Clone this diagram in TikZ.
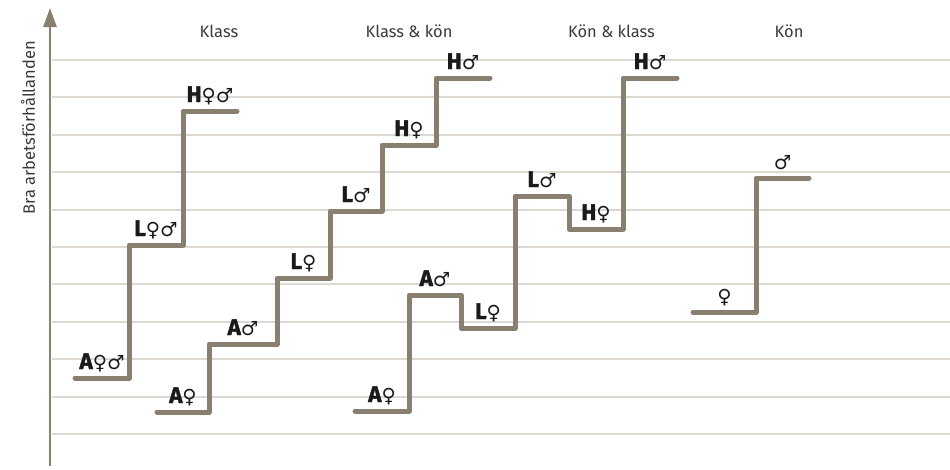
\documentclass[tikz,border=0pt]{standalone}
\usepackage{fontspec}
\usetikzlibrary{arrows.meta}
\setmainfont{Fira Sans}
\newfontfamily\symfont{DejaVu Sans}
\definecolor{stepcol}{HTML}{887F71}
\definecolor{gridcol}{HTML}{DDD9D2}
\definecolor{titlecol}{HTML}{3A3A3A}
\definecolor{labcol}{HTML}{1A1A1A}
\newcommand{\fe}{{\symfont\fontsize{19.5}{19.5}\selectfont ♀}}
\newcommand{\ma}{{\symfont\fontsize{19.5}{19.5}\selectfont ♂}}
\tikzset{
  stair/.style={draw=stepcol, line width=5pt, line cap=round, line join=round},
  gridline/.style={draw=gridcol, line width=2pt},
  lab/.style={anchor=base, inner sep=0pt, text=labcol, font=\fontsize{22.5}{22.5}\selectfont\bfseries\addfontfeature{FakeBold=1.6}, yshift=9pt},
  title/.style={text=titlecol, font=\fontsize{16.5}{16.5}\selectfont, inner sep=0pt}
}
\begin{document}
\begin{tikzpicture}[x=1pt, y=-1pt]
\useasboundingbox (0,0) rectangle (950,469);
% grid
\foreach \i in {0,...,10} {
  \draw[gridline] (52,{60+37.4*\i}) -- (950,{60+37.4*\i});
}
% axis
\coordinate (ax0) at (50,466);
\coordinate (ax1) at (50,8);
\draw[draw=stepcol, line width=2.6pt, -{Triangle[length=19pt, width=13pt]}, fill=stepcol] (ax0) -- (ax1);
\node[title, rotate=90] (ylab) at (28,128) {Bra arbetsförhållanden};
% titles
\node[title] (t1) at (219,31) {Klass};
\node[title] (t2) at (409,31) {Klass \& kön};
\node[title] (t3) at (611.5,31) {Kön \& klass};
\node[title] (t4) at (789,31) {Kön};
% Klass
\draw[stair] (75,378) -- node[lab] (k1) {A\fe\ma} (129,378) -- (129,245)
  -- node[lab] (k2) {L\fe\ma} (183,245) -- (183,111)
  -- node[lab] (k3) {H\fe\ma} (237,111);
% Klass & kon
\draw[stair] (157,412) -- node[lab] (kk1) {A\fe} (209,412) -- (209,344)
  -- node[lab] (kk2) {A\ma} (277,344) -- (277,278)
  -- node[lab] (kk3) {L\fe} (330,278) -- (330,211)
  -- node[lab] (kk4) {L\ma} (382,211) -- (382,145)
  -- node[lab] (kk5) {H\fe} (436,145) -- (436,78)
  -- node[lab] (kk6) {H\ma} (490,78);
% Kon & klass
\draw[stair] (355,411) -- node[lab] (kl1) {A\fe} (409,411) -- (409,295)
  -- node[lab] (kl2) {A\ma} (461,295) -- (461,328)
  -- node[lab] (kl3) {L\fe} (515,328) -- (515,196)
  -- node[lab] (kl4) {L\ma} (569,196) -- (569,229)
  -- node[lab] (kl5) {H\fe} (623,229) -- (623,78)
  -- node[lab] (kl6) {H\ma} (677,78);
% Kon
\draw[stair] (693,312) -- node[lab] (g1) {\fe} (756,312) -- (756,178)
  -- node[lab] (g2) {\ma} (809,178);
\end{tikzpicture}
\end{document}
